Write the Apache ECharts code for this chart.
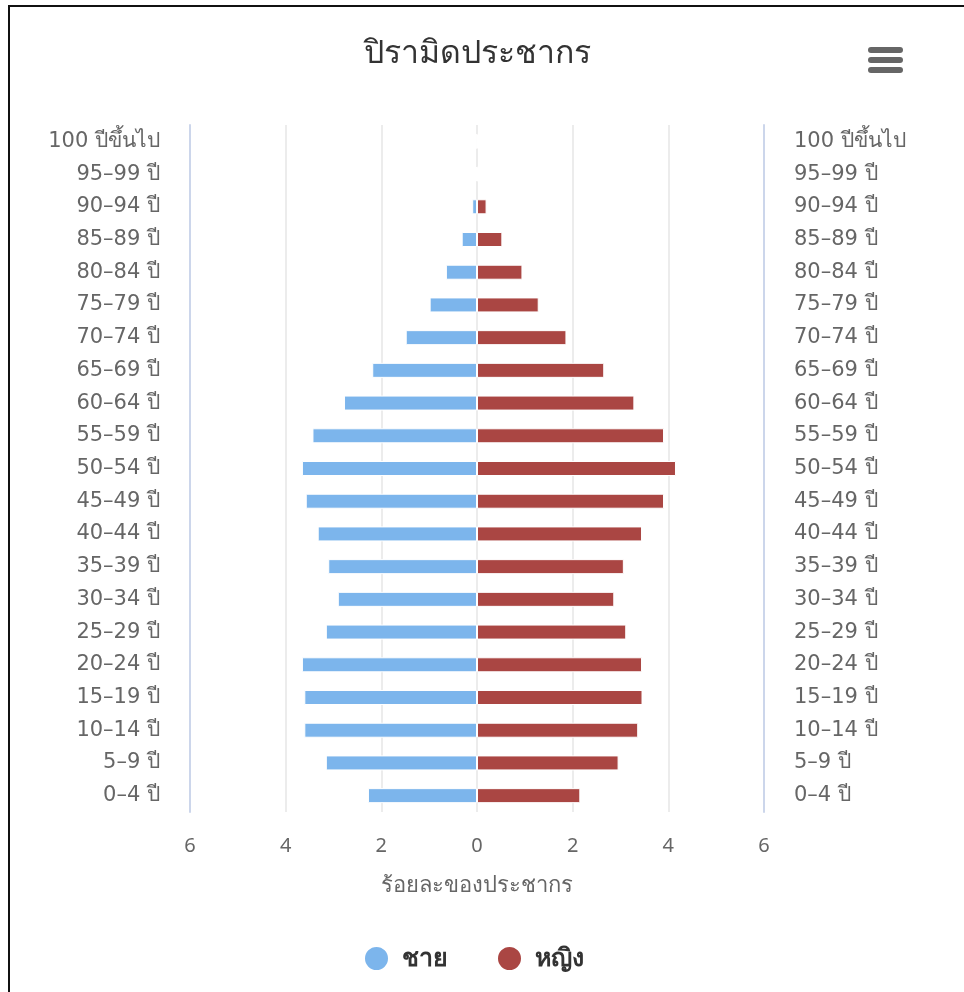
<!DOCTYPE html>
<html>
<head>
<meta charset="utf-8">
<script src="https://cdn.jsdelivr.net/npm/echarts@6/dist/echarts.min.js"></script>
<style>
html,body{margin:0;padding:0;background:#fff;}
#frame{position:absolute;left:8px;top:5px;width:2000px;height:2000px;border-left:2px solid #111;border-top:2px solid #111;}
#chart{position:absolute;left:0;top:0;width:964px;height:992px;}
</style>
</head>
<body>
<div id="frame"></div>
<div id="chart"></div>
<script>
const categories = ['0–4 ปี','5–9 ปี','10–14 ปี','15–19 ปี','20–24 ปี','25–29 ปี','30–34 ปี','35–39 ปี','40–44 ปี','45–49 ปี','50–54 ปี','55–59 ปี','60–64 ปี','65–69 ปี','70–74 ปี','75–79 ปี','80–84 ปี','85–89 ปี','90–94 ปี','95–99 ปี','100 ปีขึ้นไป'];
const maleValues = [2.28,3.16,3.61,3.61,3.66,3.16,2.91,3.11,3.33,3.58,3.66,3.44,2.78,2.19,1.49,0.99,0.65,0.32,0.10,0.02,0.01];
const femaleValues = [2.16,2.96,3.37,3.46,3.45,3.12,2.87,3.07,3.45,3.91,4.16,3.91,3.29,2.66,1.87,1.29,0.95,0.53,0.20,0.03,0.03];
const xTicks = {min:-6, max:6, interval:2};
const seriesNames = ['ชาย','หญิง'];
const titleText = 'ปิรามิดประชากร';
const xAxisName = 'ร้อยละของประชากร';

const font = '"Noto Sans", "DejaVu Sans", sans-serif';
const labelFont = '"DejaVu Sans", "Noto Sans", sans-serif';
const chart = echarts.init(document.getElementById('chart'), null, {renderer:'canvas'});
const catAxisBase = {
  type:'category', data:categories,
  axisLine:{show:true, onZero:false, lineStyle:{color:'#ccd6eb', width:2}},
  axisTick:{show:false},
  axisLabel:{color:'#666', fontSize:21, fontFamily:labelFont, margin:30},
  splitLine:{show:false}
};
chart.setOption({
  animation:false,
  title:{text:titleText, left:364, top:38, padding:0, textStyle:{color:'#333', fontSize:32, fontWeight:'normal', fontFamily:font}},
  legend:{data:seriesNames, bottom:20, left:363, padding:0, icon:'circle', itemWidth:25, itemHeight:25, itemGap:48,
    textStyle:{color:'#333', fontSize:25, fontWeight:'bold', fontFamily:font, padding:[0,0,0,8]}},
  grid:{left:190, right:200, top:125, bottom:180, containLabel:false},
  xAxis:{type:'value', min:xTicks.min, max:xTicks.max, interval:xTicks.interval,
    name:xAxisName, nameLocation:'middle', nameGap:63,
    nameTextStyle:{color:'#666', fontSize:22, fontFamily:font},
    axisLine:{show:false}, axisTick:{show:false},
    axisLabel:{color:'#666', fontSize:20, fontFamily:font, margin:24, formatter:v=>Math.abs(v)},
    splitLine:{show:true, lineStyle:{color:'#e6e6e6', width:1.5}}},
  yAxis:[
    Object.assign({}, catAxisBase, {position:'left'}),
    Object.assign({}, catAxisBase, {position:'right', axisLabel:Object.assign({}, catAxisBase.axisLabel, {align:'left'})})
  ],
  series:[
    {name:seriesNames[0], type:'bar', stack:'pop', yAxisIndex:0, barWidth:15,
     itemStyle:{color:'#7cb5ec', borderColor:'#fff', borderWidth:1},
     data:maleValues.map(v=>-v)},
    {name:seriesNames[1], type:'bar', stack:'pop', yAxisIndex:0, barWidth:15,
     itemStyle:{color:'#aa4643', borderColor:'#fff', borderWidth:1},
     data:femaleValues}
  ],
  graphic:[
    {type:'rect', shape:{x:868, y:47, width:35, height:6, r:3}, style:{fill:'#666'}},
    {type:'rect', shape:{x:868, y:57, width:35, height:6, r:3}, style:{fill:'#666'}},
    {type:'rect', shape:{x:868, y:67, width:35, height:6, r:3}, style:{fill:'#666'}}
  ]
});
</script>
</body>
</html>
